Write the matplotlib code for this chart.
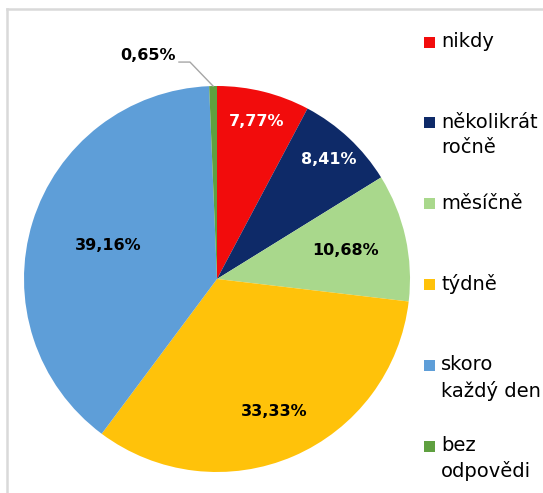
import numpy as np
import matplotlib
matplotlib.use("Agg")
import matplotlib.pyplot as plt
from matplotlib.patches import Rectangle
from matplotlib.lines import Line2D

categories = ["nikdy", "několikrát\nročně", "měsíčně", "týdně", "skoro\nkaždý den", "bez\nodpovědi"]
values = [7.77, 8.41, 10.68, 33.33, 39.16, 0.65]
labels = ["7,77%", "8,41%", "10,68%", "33,33%", "39,16%", "0,65%"]
colors = ["#F20C0C", "#0E2A68", "#A9D88C", "#FFC20A", "#5E9ED8", "#5FA040"]
label_colors = ["white", "white", "black", "black", "black", "black"]
label_radius = [0.84, 0.85, 0.68, 0.75, 0.59, None]

W, H = 543, 493
fig = plt.figure(figsize=(W / 100, H / 100), dpi=100)
fig.patch.set_facecolor("white")

# border (left and top visible)
fig.add_artist(Line2D([6.5 / W, 6.5 / W], [0, 1 - 8.5 / H], transform=fig.transFigure,
                      color="#D9D9D9", lw=1.8))
fig.add_artist(Line2D([6.5 / W, 1], [1 - 8.5 / H, 1 - 8.5 / H], transform=fig.transFigure,
                      color="#D9D9D9", lw=1.8))

cx, cy, r = 217, 279, 193
ax = fig.add_axes([(cx - r) / W, (H - cy - r) / H, 2 * r / W, 2 * r / H])
wedges, _ = ax.pie(values, colors=colors, startangle=90, counterclock=False,
                   wedgeprops=dict(linewidth=0))
ax.set_xlim(-1, 1)
ax.set_ylim(-1, 1)
ax.set_aspect("equal")
ax.axis("off")

for w, lab, lc, rad in zip(wedges, labels, label_colors, label_radius):
    mid = np.deg2rad((w.theta1 + w.theta2) / 2)
    if rad is not None:
        ax.text(rad * np.cos(mid), rad * np.sin(mid), lab, ha="center", va="center",
                fontsize=11.5, fontweight="bold", color=lc)
    else:
        x0, y0 = np.cos(mid), np.sin(mid)
        ax.plot([x0, -0.14, -0.197], [y0, 1.124, 1.124], color="#A6A6A6", lw=1, clip_on=False)
        ax.text(-0.215, 1.16, lab, ha="right", va="center", fontsize=11.5,
                fontweight="bold", color=lc, clip_on=False)

# legend
for i, (cat, col) in enumerate(zip(categories, colors)):
    yc = 42 + i * 80.8
    fig.add_artist(Rectangle((424 / W, 1 - (yc + 5.5) / H), 11 / W, 11 / H,
                             transform=fig.transFigure, facecolor=col, edgecolor="none"))
    fig.text(441 / W, 1 - (yc - 10) / H, cat, ha="left", va="top", fontsize=14,
             color="black", linespacing=1.4)

fig.savefig("out.png", dpi=100, facecolor="white")
